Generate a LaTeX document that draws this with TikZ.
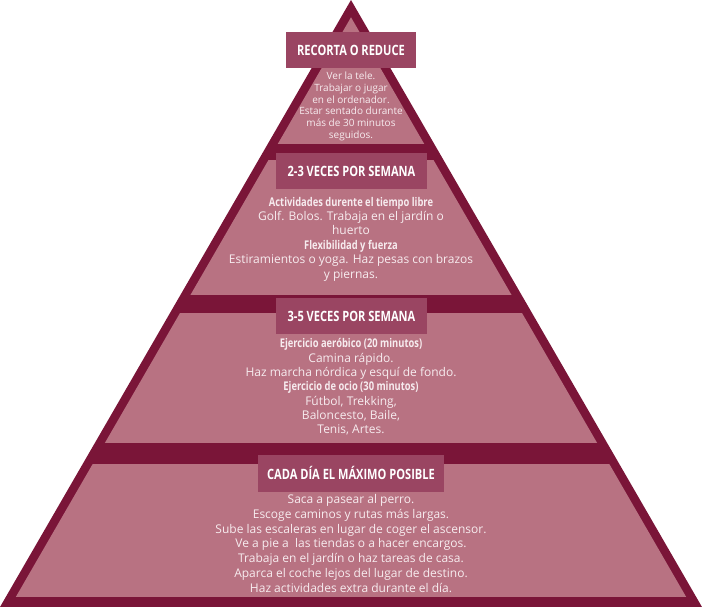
\documentclass[tikz,border=0pt]{standalone}
\usepackage{fontspec}
\setmainfont{Open Sans}
\newfontfamily\headfont{Open Sans}[FakeStretch=0.78]
\definecolor{pyrdark}{HTML}{7A1538}
\definecolor{pyrlight}{HTML}{B87282}
\definecolor{pyrbox}{HTML}{9A4562}
\definecolor{pyrtext}{HTML}{F7ECEF}
\tikzset{
  levelbox/.style={fill=pyrbox, text=white, inner sep=0pt, minimum height=36pt,
    font=\headfont\bfseries\fontsize{14.2}{16}\selectfont},
  leveltext/.style={text=pyrtext, align=center, inner sep=0pt},
}
\newcommand{\hd}[1]{{\headfont\bfseries #1}}

\begin{document}
\begin{tikzpicture}[x=1pt,y=-1pt]
		%%%%% START %%%%%
		\useasboundingbox (0,0) rectangle (702,607);
		
		\fill[pyrdark] (351,0) -- (702,607) -- (0,607) -- cycle;
		
		\begin{scope}
			\clip (351,17.3) -- (692,607) -- (10,607) -- cycle;
			\fill[pyrlight] (0,0) rectangle (702,144);
			\fill[pyrlight] (0,160) rectangle (702,295);
			\fill[pyrlight] (0,313) rectangle (702,443);
			\fill[pyrlight] (0,464) rectangle (702,597);
		\end{scope}
		
		\node[levelbox, minimum width=130pt] (reduce) at (351,50) {RECORTA O REDUCE};
		\node[leveltext, font=\fontsize{10}{11.8}\selectfont] (reducetxt) at (351,106.5)
			{Ver la tele.\\Trabajar o jugar\\en el ordenador.\\Estar sentado durante\\más de 30 minutos\\seguidos.};
		
		\node[levelbox, minimum width=151pt] (twice) at (351.5,171) {2-3 VECES POR SEMANA};
		\node[leveltext, font=\fontsize{12}{14.4}\selectfont] (twicetxt) at (351,239)
			{\hd{Actividades durente el tiempo libre}\\Golf. Bolos. Trabaja en el jardín o\\huerto\\
			 \hd{Flexibilidad y fuerza}\\Estiramientos o yoga. Haz pesas con brazos\\y piernas.};
		
		\node[levelbox, minimum width=151pt] (thrice) at (351.5,316) {3-5 VECES POR SEMANA};
		\node[leveltext, font=\fontsize{12}{14.3}\selectfont] (thricetxt) at (351,387)
			{\hd{Ejercicio aeróbico (20 minutos)}\\Camina rápido.\\Haz marcha nórdica y esquí de fondo.\\
			 \hd{Ejercicio de ocio (30 minutos)}\\Fútbol, Trekking,\\Baloncesto, Baile,\\Tenis, Artes.};
		
		\node[levelbox, minimum width=186pt, minimum height=37pt] (daily) at (351,473) {CADA DÍA EL MÁXIMO POSIBLE};
		\node[leveltext, font=\fontsize{12}{14.8}\selectfont] (dailytxt) at (351,543.5)
			{Saca a pasear al perro.\\Escoge caminos y rutas más largas.\\Sube las escaleras en lugar de coger el ascensor.\\
			 Ve a pie a~ las tiendas o a hacer encargos.\\Trabaja en el jardín o haz tareas de casa.\\
			 Aparca el coche lejos del lugar de destino.\\Haz actividades extra durante el día.};
		
		%%%%% END %%%%%
	\end{tikzpicture}
\end{document}
